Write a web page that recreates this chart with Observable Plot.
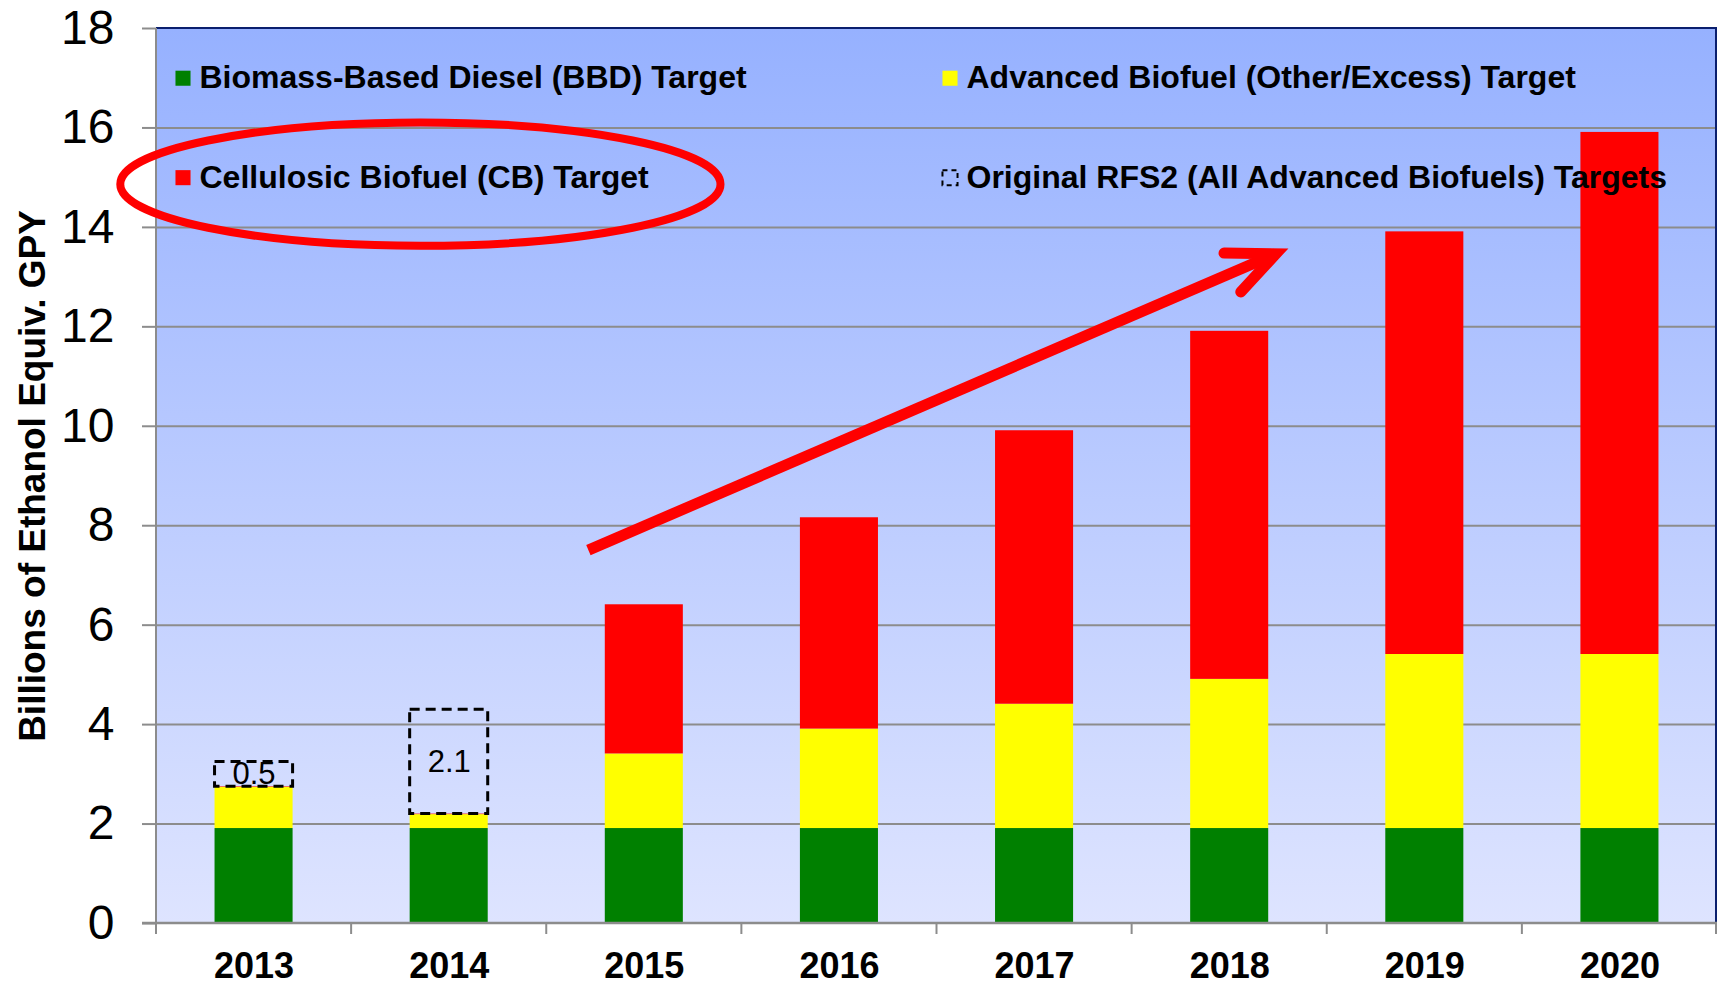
<!DOCTYPE html>
<html><head><meta charset="utf-8">
<script src="https://cdn.jsdelivr.net/npm/d3@7"></script>
<script src="https://cdn.jsdelivr.net/npm/@observablehq/plot@0.6"></script>
<style>html,body{margin:0;padding:0;background:#fff} svg{display:block}</style>
</head><body><div id="chart"></div>
<script>
// ---- data ----
const years = ["2013","2014","2015","2016","2017","2018","2019","2020"];
const bbd = [1.91,1.91,1.91,1.91,1.91,1.91,1.91,1.91];
const advancedOther = [0.83,0.28,1.5,2.0,2.5,3.0,3.5,3.5];
const cellulosic = [0.01,0.01,3.0,4.25,5.5,7.0,8.5,10.5];
const gapYears = ["2013","2014"];
const gapValues = [0.5, 2.1];
const gapLabels = ["0.5","2.1"];
const seriesNames = ["Biomass-Based Diesel (BBD) Target","Advanced Biofuel (Other/Excess) Target","Cellulosic Biofuel (CB) Target"];
const originalName = "Original RFS2 (All Advanced Biofuels) Targets";
const seriesColors = ["#008000","#ffff00","#ff0000"];
const yTicks = [0,2,4,6,8,10,12,14,16,18];
const yTitle = "Billions of Ethanol Equiv. GPY";

(function () {
// ---- tables ----
const seriesValues = [bbd, advancedOther, cellulosic];
const rows = [];
years.forEach((yr, i) => seriesNames.forEach((s, k) => rows.push({year: yr, series: s, value: seriesValues[k][i]})));
const totals = years.map((yr, i) => bbd[i] + advancedOther[i] + cellulosic[i]);
const gaps = gapYears.map((yr, j) => {
  const t = totals[years.indexOf(yr)];
  return {year: yr, lo: t, hi: t + gapValues[j], mid: t + gapValues[j] / 2, label: gapLabels[j]};
});
const legendCol0 = [
  {name: seriesNames[0], color: seriesColors[0], y: 17},
  {name: seriesNames[2], color: seriesColors[2], y: 15},
];
const legendCol1 = [
  {name: seriesNames[1], color: seriesColors[1], y: 17},
];
const colDx = [26.5, 793.5];
const textOff = 16.5;
const FONT = "Liberation Sans, Arial, Helvetica, sans-serif";

const svg = Plot.plot({
  width: 1717, height: 983,
  marginLeft: 156, marginRight: 0, marginTop: 28, marginBottom: 60,
  style: {fontFamily: FONT, color: "#000", background: "#fff", overflow: "visible"},
  x: {domain: years, paddingInner: 0.6, paddingOuter: 0.3, round: false, label: null},
  y: {domain: [0, 18], label: null},
  color: {domain: seriesNames, range: seriesColors},
  marks: [
    Plot.frame({fill: "url(#bgGrad)", stroke: "none"}),
    Plot.ruleY(yTicks.filter(d => d > 0 && d < 18), {stroke: "#8c8c8c", strokeWidth: 2}),
    Plot.barY(rows, {x: "year", y: "value", fill: "series", order: seriesNames}),
    Plot.barY(gaps, {x: "year", y1: "lo", y2: "hi", fill: "none", stroke: "#000", strokeWidth: 3, strokeDasharray: "10,6"}),
    Plot.text(gaps, {x: "year", y: "mid", text: "label", fontSize: 31, fill: "#000"}),
    Plot.axisY({ticks: yTicks, tickSize: 14, tickPadding: 28, fontSize: 48, stroke: "#8c8c8c", strokeWidth: 2, strokeOpacity: 1, fill: "#000", label: null, tickFormat: d => String(d)}),
    Plot.axisX({tickSize: 0, tickPadding: 29, fontSize: 36, fontWeight: "bold", fill: "#000", label: null}),
    Plot.text([yTitle], {frameAnchor: "left", y: () => 9, text: d => d, rotate: -90, dx: -123, textAnchor: "middle", fontSize: 37, fontWeight: "bold", fill: "#000"}),
    Plot.dot(legendCol0, {frameAnchor: "left", y: "y", dx: colDx[0], symbol: "square", r: 8.5, fill: "color", stroke: "none"}),
    Plot.text(legendCol0, {frameAnchor: "left", y: "y", dx: colDx[0] + textOff, text: "name", textAnchor: "start", fontSize: 32, fontWeight: "bold", fill: "#000"}),
    Plot.dot(legendCol1, {frameAnchor: "left", y: "y", dx: colDx[1], symbol: "square", r: 8.5, fill: "color", stroke: "none"}),
    Plot.text(legendCol1, {frameAnchor: "left", y: "y", dx: colDx[1] + textOff, text: "name", textAnchor: "start", fontSize: 32, fontWeight: "bold", fill: "#000"}),
    Plot.dot([originalName], {frameAnchor: "left", y: () => 15, dx: colDx[1], symbol: "square", r: 8.5, fill: "none", stroke: "#000", strokeWidth: 2, strokeDasharray: "5,4"}),
    Plot.text([originalName], {frameAnchor: "left", y: () => 15, dx: colDx[1] + textOff, text: d => d, textAnchor: "start", fontSize: 32, fontWeight: "bold", fill: "#000"}),
  ]
});
document.getElementById("chart").appendChild(svg);

const sel = d3.select(svg);
const xs = svg.scale("x"), ys = svg.scale("y");
const c0 = xs.apply(years[0]) + xs.bandwidth / 2;
const step = xs.apply(years[1]) - xs.apply(years[0]);
const px = i => c0 + i * step;          // fractional category index -> pixel
const py = v => ys.apply(v);
const xLeft = c0 - step / 2, xRight = c0 + (years.length - 0.5) * step;
const yTop = py(18), yBottom = py(0);

// gradient background
const defs = sel.insert("defs", ":first-child");
const g = defs.append("linearGradient").attr("id", "bgGrad").attr("x1", 0).attr("y1", 0).attr("x2", 0).attr("y2", 1);
g.append("stop").attr("offset", "0%").attr("stop-color", "rgb(150,177,255)");
g.append("stop").attr("offset", "100%").attr("stop-color", "rgb(222,228,255)");

// frame lines
const lines = sel.append("g");
lines.append("line").attr("x1", xLeft).attr("x2", xRight).attr("y1", yTop).attr("y2", yTop).attr("stroke", "#0a1f6e").attr("stroke-width", 2);
lines.append("line").attr("x1", xRight - 1).attr("x2", xRight - 1).attr("y1", yTop).attr("y2", yBottom).attr("stroke", "#0a1f6e").attr("stroke-width", 2);
lines.append("line").attr("x1", xLeft).attr("x2", xLeft).attr("y1", yTop).attr("y2", yBottom + 11).attr("stroke", "#8c8c8c").attr("stroke-width", 2);
lines.append("line").attr("x1", xLeft - 14).attr("x2", xRight).attr("y1", yBottom).attr("y2", yBottom).attr("stroke", "#8c8c8c").attr("stroke-width", 2.5);
for (let i = 0; i <= years.length; i++) {
  const x = Math.min(xLeft + i * step, xRight - 1);
  lines.append("line").attr("x1", x).attr("x2", x).attr("y1", yBottom).attr("y2", yBottom + 11).attr("stroke", "#8c8c8c").attr("stroke-width", 2);
}

// annotations: ellipse and arrow (in data units)
const ell = {cx: 0.855, cy: 14.86, rx: 1.538, ry: 1.24};
sel.append("ellipse")
  .attr("cx", px(ell.cx)).attr("cy", py(ell.cy))
  .attr("rx", ell.rx * step).attr("ry", py(ell.cy - ell.ry) - py(ell.cy))
  .attr("fill", "none").attr("stroke", "#ff0000").attr("stroke-width", 8);

const arrowFrom = {i: 1.716, v: 7.5}, arrowTo = {i: 5.24, v: 13.46};
const x1 = px(arrowFrom.i), y1 = py(arrowFrom.v), x2 = px(arrowTo.i), y2 = py(arrowTo.v);
const ang = Math.atan2(y1 - y2, x1 - x2);
const hl = 52, ha = 24 * Math.PI / 180;
const b1 = [x2 + hl * Math.cos(ang - ha), y2 + hl * Math.sin(ang - ha)];
const b2 = [x2 + hl * Math.cos(ang + ha), y2 + hl * Math.sin(ang + ha)];
sel.append("path")
  .attr("d", `M${x1},${y1}L${x2},${y2}`)
  .attr("stroke", "#ff0000").attr("stroke-width", 11).attr("fill", "none").attr("stroke-linecap", "butt");
sel.append("path")
  .attr("d", `M${b1[0]},${b1[1]}L${x2},${y2}L${b2[0]},${b2[1]}`)
  .attr("stroke", "#ff0000").attr("stroke-width", 11).attr("fill", "none").attr("stroke-linecap", "round").attr("stroke-linejoin", "miter");
})();
</script>
</body></html>
